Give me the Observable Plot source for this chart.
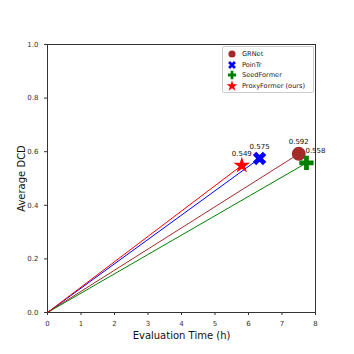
<!DOCTYPE html>
<html><head><meta charset="utf-8">
<script src="https://cdn.jsdelivr.net/npm/d3@7"></script>
<script src="https://cdn.jsdelivr.net/npm/@observablehq/plot@0.6"></script>
<style>
body{margin:0;background:#fff;font-family:"DejaVu Sans",sans-serif;}
#wrap{position:relative;width:354px;height:354px;}
#legend{position:absolute;left:222px;top:46px;width:90px;height:45px;border:1px solid #ccc;border-radius:2px;background:#fff;font-size:6.6px;color:#222;}
.row{position:absolute;left:0;height:10px;display:flex;align-items:center;}
.row svg{margin-left:4px;margin-right:5px;}
</style></head><body><div id="wrap"><div id="legend"></div></div>
<script>
const methods = ["GRNet", "PoinTr", "SeedFormer", "ProxyFormer (ours)"];
const times = [7.5, 6.33, 7.73, 5.8];
const dcd = [0.592, 0.575, 0.558, 0.549];
const labels = ["0.592", "0.575", "0.558", "0.549"];
const colors = ["#a52a2a", "#0000ff", "#008000", "#ff0000"];
const symbols = ["circle", "cross", "cross", "star"];
const rotations = [0, 45, 0, 0];
const sizes = [7, 6, 6, 5.2];
const labelDx = [0, 0, 9, 0];
const xTicks = [0,1,2,3,4,5,6,7,8];
const yTicks = [0,0.2,0.4,0.6,0.8,1.0];

const data = methods.map((m,i)=>({m, t:times[i], d:dcd[i], label:labels[i], color:colors[i], symbol:symbols[i], rot:rotations[i], r:sizes[i], dx:labelDx[i]}));
const d3sym = {circle:d3.symbolCircle, cross:d3.symbolCross, star:d3.symbolStar};

const plot = Plot.plot({
  width:354, height:354,
  marginLeft:47, marginRight:39, marginTop:44, marginBottom:42,
  style:{fontFamily:"DejaVu Sans, sans-serif", fontSize:"7px", color:"#333"},
  x:{domain:[0,8], ticks:xTicks, tickFormat:d3.format("d"), label:"Evaluation Time (h)", labelAnchor:"center", labelArrow:"none", labelOffset:26, tickSize:3},
  y:{domain:[0,1], ticks:yTicks, tickFormat:d3.format(".1f"), label:"Average DCD", labelAnchor:"center", labelArrow:"none", labelOffset:30, tickSize:3},
  marks:[
    Plot.frame({stroke:"#333"}),
    Plot.link(data,{x1:()=>0, y1:()=>0, x2:"t", y2:"d", stroke:d=>d.color, strokeWidth:1}),
    ...data.map(d=>Plot.dot([d],{x:"t", y:"d", symbol:"symbol", fill:"color", r:d.r, rotate:d.rot})),
    ...data.map(d=>Plot.text([d],{x:"t", y:"d", text:"label", dy:-12, dx:d.dx, fontSize:7, fill:"#111"}))
  ]
});
plot.querySelectorAll("g[aria-label='x-axis label'] text, g[aria-label='y-axis label'] text").forEach(t=>{t.setAttribute("font-size","10px");t.setAttribute("fill","#111");});
document.getElementById("wrap").prepend(plot);

const leg = document.getElementById("legend");
data.forEach((d,i)=>{
  const row = document.createElement("div");
  row.className="row";
  row.style.top=(2+i*10.5)+"px";
  const s = d3.create("svg").attr("width",10).attr("height",10);
  const size = d.symbol==="circle"?40:38;
  s.append("path").attr("d", d3.symbol(d3sym[d.symbol], size)()).attr("transform",`translate(5,5) rotate(${d.rot})`).attr("fill",d.color);
  row.appendChild(s.node());
  const sp=document.createElement("span"); sp.textContent=d.m; row.appendChild(sp);
  leg.appendChild(row);
});
</script></body></html>
